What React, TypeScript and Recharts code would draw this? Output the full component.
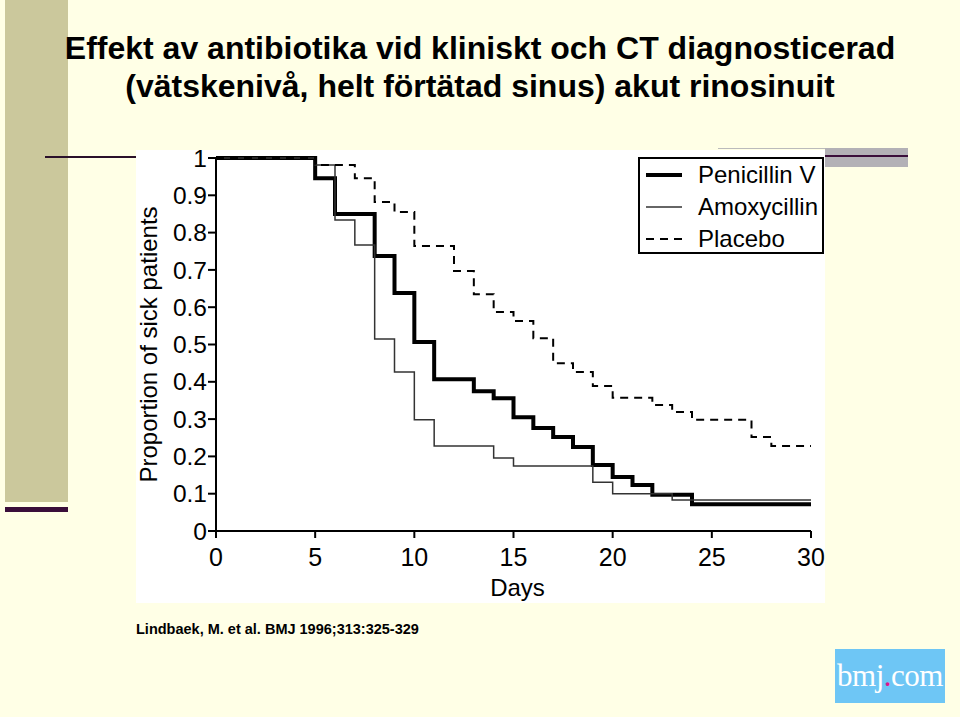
import React from "react";
import { LineChart, Line, XAxis, YAxis } from "recharts";

// Kaplan-Meier curves (day at which each step starts)
const penicillinDays = [0, 5, 6, 8, 9, 10, 11, 13, 14, 15, 16, 17, 18, 19, 20, 21, 22, 24, 30];
const penicillinVals = [1, 0.946, 0.85, 0.737, 0.638, 0.507, 0.407, 0.375, 0.356, 0.305, 0.276, 0.252, 0.225, 0.177, 0.145, 0.123, 0.097, 0.072, 0.072];

const amoxDays = [0, 5, 6, 7, 8, 9, 10, 11, 14, 15, 19, 20, 23, 30];
const amoxVals = [1, 0.981, 0.834, 0.767, 0.515, 0.426, 0.298, 0.228, 0.196, 0.174, 0.131, 0.1, 0.083, 0.083];

const placeboDays = [0, 5, 7, 8, 9, 10, 12, 13, 14, 15, 16, 17, 18, 19, 20, 22, 23, 24, 27, 28, 30];
const placeboVals = [1, 0.981, 0.946, 0.882, 0.855, 0.764, 0.697, 0.635, 0.587, 0.563, 0.517, 0.45, 0.426, 0.389, 0.357, 0.338, 0.319, 0.298, 0.252, 0.228, 0.228];

const xTicks = [0, 5, 10, 15, 20, 25, 30];
const yTicks = [0, 0.1, 0.2, 0.3, 0.4, 0.5, 0.6, 0.7, 0.8, 0.9, 1];

const toRows = (days: number[], vals: number[]) => days.map((d, i) => ({ day: d, p: vals[i] }));

const SANS = '"Liberation Sans", Arial, Helvetica, sans-serif';
const BG = "#FFFFE6";

const SERIES = [
  { name: "Penicillin V", data: toRows(penicillinDays, penicillinVals), width: 4, color: "#000", dash: undefined as string | undefined },
  { name: "Amoxycillin", data: toRows(amoxDays, amoxVals), width: 1.5, color: "#333", dash: undefined as string | undefined },
  { name: "Placebo", data: toRows(placeboDays, placeboVals), width: 2, color: "#000", dash: "8 6" },
];

function LegendBox() {
  return (
    <div
      style={{
        position: "absolute",
        left: 502,
        top: 7,
        width: 186,
        height: 97,
        boxSizing: "border-box",
        border: "2px solid #000",
        background: "#fff",
      }}
    >
      <svg width={182} height={93} style={{ position: "absolute", left: 0, top: 0 }}>
        {SERIES.map((s, i) => {
          const y = 16 + i * 32;
          return (
            <g key={s.name}>
              <line x1={6} x2={42} y1={y} y2={y} stroke={s.color} strokeWidth={s.width} strokeDasharray={s.dash} />
              <text x={58} y={y + 8} fontFamily={SANS} fontSize={24} fill="#000">
                {s.name}
              </text>
            </g>
          );
        })}
      </svg>
    </div>
  );
}

const yFmt = (v: number) => (v === 0 || v === 1 ? String(v) : v.toFixed(1));

export default function App() {
  return (
    <div style={{ position: "absolute", left: 0, top: 0, width: 960, height: 717, background: BG, overflow: "hidden", fontFamily: SANS }}>
      {/* left decorative bar */}
      <div style={{ position: "absolute", left: 5, top: 0, width: 63, height: 502, background: "#CBC89C" }} />
      <div style={{ position: "absolute", left: 5, top: 507, width: 63, height: 5, background: "#3A0E3A" }} />
      <div style={{ position: "absolute", left: 45, top: 156, width: 92, height: 2, background: "#2A102A" }} />
      {/* top-right decoration */}
      <div style={{ position: "absolute", left: 718, top: 148, width: 108, height: 1, background: "#BBB" }} />
      <div style={{ position: "absolute", left: 825, top: 148, width: 83, height: 19, background: "#B3B1B6" }} />
      <div style={{ position: "absolute", left: 825, top: 155, width: 83, height: 2, background: "#3A0E3A" }} />

      {/* title */}
      <div
        style={{
          position: "absolute",
          left: 0,
          top: 29,
          width: 960,
          textAlign: "center",
          fontWeight: "bold",
          fontSize: 32,
          lineHeight: "38px",
          color: "#000",
        }}
      >
        Effekt av antibiotika vid kliniskt och CT diagnosticerad
        <br />
        (vätskenivå, helt förtätad sinus) akut rinosinuit
      </div>

      {/* chart panel */}
      <div style={{ position: "absolute", left: 136, top: 150, width: 689, height: 453, background: "#fff" }}>
        <div style={{ position: "absolute", left: 0, top: -10 }}>
          <LineChart width={689} height={463} margin={{ top: 18, right: 14, bottom: 0, left: 0 }}>
            <XAxis
              dataKey="day"
              type="number"
              domain={[0, 30]}
              ticks={xTicks}
              interval={0}
              allowDuplicatedCategory={false}
              height={72}
              stroke="#000"
              strokeWidth={2}
              tickSize={7}
              tickMargin={10}
              tick={{ fontSize: 25, fontFamily: SANS, fill: "#000" }}
              label={{
                content: ({ viewBox }: any) => (
                  <text
                    x={viewBox.x + viewBox.width / 2 + 4}
                    y={viewBox.y + 65}
                    textAnchor="middle"
                    fontFamily={SANS}
                    fontSize={24}
                    fill="#000"
                  >
                    Days
                  </text>
                ),
              }}
            />
            <YAxis
              type="number"
              domain={[0, 1]}
              ticks={yTicks}
              interval={0}
              width={80}
              stroke="#000"
              strokeWidth={2}
              tickSize={8}
              tickMargin={1}
              tickFormatter={yFmt}
              tick={{ fontSize: 24.5, fontFamily: SANS, fill: "#000" }}
              label={{
                content: ({ viewBox }: any) => {
                  const cx = 12;
                  const cy = viewBox.y + viewBox.height / 2;
                  return (
                    <text
                      x={cx}
                      y={cy}
                      transform={`rotate(-90 ${cx} ${cy})`}
                      textAnchor="middle"
                      dominantBaseline="central"
                      fontFamily={SANS}
                      fontSize={24}
                      fill="#000"
                    >
                      Proportion of sick patients
                    </text>
                  );
                },
              }}
            />
            {SERIES.map((s) => (
              <Line
                key={s.name}
                name={s.name}
                data={s.data}
                dataKey="p"
                type="stepAfter"
                stroke={s.color}
                strokeWidth={s.width}
                strokeDasharray={s.dash}
                dot={false}
                isAnimationActive={false}
              />
            ))}
          </LineChart>
        </div>
        <LegendBox />
      </div>

      {/* citation */}
      <div style={{ position: "absolute", left: 136, top: 621, fontSize: 14.5, fontWeight: "bold", color: "#000" }}>
        Lindbaek, M. et al. BMJ 1996;313:325-329
      </div>

      {/* bmj.com logo */}
      <div
        style={{
          position: "absolute",
          left: 835,
          top: 649,
          width: 110,
          height: 54,
          background: "#6EC6F5",
          color: "#fff",
          fontFamily: '"Liberation Serif", "DejaVu Serif", serif',
          fontSize: 31,
          lineHeight: "54px",
          textAlign: "center",
          letterSpacing: -0.5,
        }}
      >
        bmj<span style={{ color: "#E0158C" }}>.</span>com
      </div>
    </div>
  );
}
